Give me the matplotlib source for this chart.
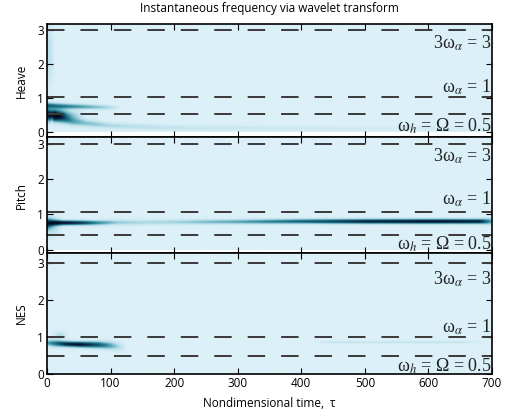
import matplotlib
matplotlib.use("Agg")
import matplotlib.pyplot as plt
import numpy as np
from matplotlib.colors import LinearSegmentedColormap

plt.rcParams['mathtext.fontset'] = 'stix'

# ---- data ----
panel_names = ["Heave", "Pitch", "NES"]
x_ticks = [0, 100, 200, 300, 400, 500, 600, 700]
y_ticks = [0, 1, 2, 3]

# dashed reference frequencies per panel
heave_lines = [3.0, 1.02, 0.53]
pitch_lines = [3.0, 1.07, 0.42]
nes_lines = [3.0, 1.0, 0.49]

# label text and the height (frequency) of its baseline
label_texts = [r'3ω$_\alpha$ = 3', r'ω$_\alpha$ = 1', r'ω$_h$ = Ω = 0.5']
heave_label_y = [2.47, 1.15, 0.0]
pitch_label_y = [2.51, 1.28, 0.0]
nes_label_y = [2.41, 1.13, 0.07]

# wavelet ridges: (time knots, frequency, amplitude, spread in frequency)
heave_ridges = [
    ([0, 8, 20, 35, 60], [0.5, 0.5, 0.5, 0.48, 0.45], [1.0, 1.0, 0.7, 0.35, 0.0], [0.13, 0.11, 0.11, 0.11, 0.1]),
    ([0, 20, 60, 100, 118], [0.78, 0.76, 0.74, 0.72, 0.72], [0.6, 0.55, 0.4, 0.18, 0.0], [0.055, 0.055, 0.05, 0.045, 0.04]),
    ([10, 40, 100, 200, 400, 700], [0.45, 0.3, 0.18, 0.12, 0.1, 0.1], [0.45, 0.35, 0.2, 0.12, 0.07, 0.04], [0.1, 0.08, 0.06, 0.05, 0.05, 0.05]),
    ([0, 5, 12], [2.3, 2.3, 2.3], [0.18, 0.14, 0.0], [0.6, 0.6, 0.6]),
]
pitch_ridges = [
    ([0, 10, 30, 55, 80, 110, 150, 200, 300, 400, 500, 600, 680, 700],
     [0.76, 0.77, 0.77, 0.77, 0.77, 0.78, 0.78, 0.79, 0.80, 0.81, 0.81, 0.81, 0.81, 0.81],
     [0.6, 0.95, 1.0, 0.8, 0.5, 0.25, 0.2, 0.22, 0.4, 0.65, 0.9, 1.0, 0.95, 0.4],
     [0.08, 0.05, 0.045, 0.045, 0.045, 0.05, 0.05, 0.05, 0.045, 0.045, 0.045, 0.045, 0.045, 0.06]),
    ([0, 10, 25], [0.7, 0.7, 0.7], [0.35, 0.25, 0.0], [0.18, 0.18, 0.18]),
]
nes_ridges = [
    ([0, 10, 30, 50, 80, 100, 125], [0.83, 0.82, 0.8, 0.79, 0.78, 0.76, 0.7],
     [0.4, 0.55, 0.9, 1.0, 0.7, 0.4, 0.0], [0.06, 0.06, 0.05, 0.05, 0.06, 0.07, 0.08]),
    ([5, 20, 35], [1.03, 1.03, 1.03], [0.0, 0.2, 0.0], [0.07, 0.07, 0.07]),
    ([415, 450, 650, 690], [0.85, 0.85, 0.85, 0.85], [0.0, 0.14, 0.14, 0.0], [0.02, 0.02, 0.02, 0.02]),
]

cmap = LinearSegmentedColormap.from_list(
    "wav", ["#dcf0f8", "#b9dfea", "#6fb5c5", "#2a8597", "#135a73", "#0c2d4d", "#060c22"])


def build_map(ridges, t, f):
    img = np.zeros((len(f), len(t)))
    for tk, fk, ak, wk in ridges:
        fc = np.interp(t, tk, fk)
        amp = np.interp(t, tk, ak, left=0, right=0)
        wid = np.interp(t, tk, wk)
        img += amp[None, :] * np.exp(-0.5 * ((f[:, None] - fc[None, :]) / wid[None, :]) ** 2)
    return np.clip(img, 0, 1)


t = np.linspace(0, 700, 701)
f = np.linspace(0, 3.35, 336)

fig = plt.figure(figsize=(5.07, 4.18), dpi=100)
positions = [[0.0927, 0.6722, 0.8777, 0.2703],
             [0.0927, 0.3947, 0.8777, 0.2775],
             [0.0927, 0.1053, 0.8777, 0.2895]]
ylims = [(-0.15, 3.18), (-0.1, 3.21), (0, 3.27)]
all_ridges = [heave_ridges, pitch_ridges, nes_ridges]
all_lines = [heave_lines, pitch_lines, nes_lines]
all_label_y = [heave_label_y, pitch_label_y, nes_label_y]

for i in range(3):
    ax = fig.add_axes(positions[i])
    img = build_map(all_ridges[i], t, f)
    ax.imshow(img, origin='lower', extent=[0, 700, f[0], f[-1]], aspect='auto',
              cmap=cmap, vmin=0, vmax=1, interpolation='bilinear')
    for yl in all_lines[i]:
        ax.axhline(yl, color='#3a3a3a', lw=1.4, dashes=(9, 8.2))
    for txt, yy in zip(label_texts, all_label_y[i]):
        ax.text(699, yy, txt, ha='right', va='baseline', fontsize=13,
                family='Liberation Serif', color='#222222', clip_on=True)
    ax.set_xlim(0, 700)
    ax.set_ylim(*ylims[i])
    ax.set_xticks(x_ticks)
    ax.set_yticks(y_ticks)
    ax.tick_params(direction='in', top=True, right=True, length=4.5, width=0.8,
                   labelsize=8.5, pad=2)
    for lab in ax.get_xticklabels() + ax.get_yticklabels():
        lab.set_family('Open Sans')
    for s in ax.spines.values():
        s.set_linewidth(1.2)
    ax.set_ylabel(panel_names[i], fontsize=8.5, family='Open Sans', labelpad=7)
    if i < 2:
        ax.set_xticklabels([])
    else:
        ax.set_xlabel('Nondimensional time,  τ', fontsize=8.5, family='Open Sans', labelpad=5)
    if i == 0:
        ax.set_title('Instantaneous frequency via wavelet transform', fontsize=8.5,
                     family='Open Sans', pad=9)

fig.savefig('out.png', dpi=100)
